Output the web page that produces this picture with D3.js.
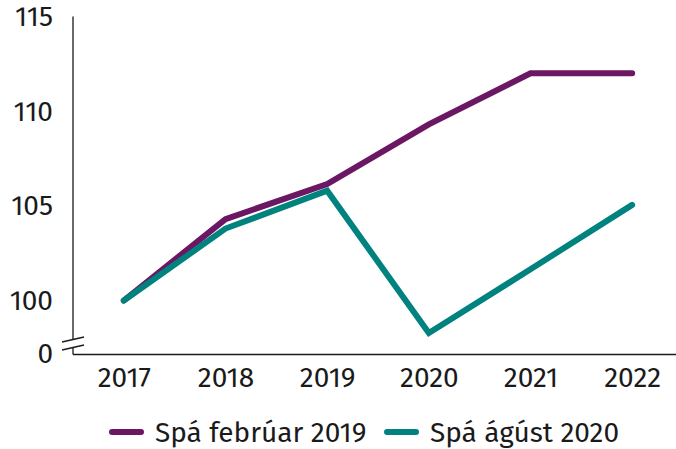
<!DOCTYPE html>
<html>
<head>
<meta charset="utf-8">
<script src="https://cdn.jsdelivr.net/npm/d3@7"></script>
<style>
  body { margin: 0; background: #fff; }
  svg text { font-family: "Fira Sans", "Noto Sans", sans-serif; fill: #1a1a1a; }
</style>
</head>
<body>
<svg width="676" height="449"></svg>
<script>
var years = ['2017', '2018', '2019', '2020', '2021', '2022'];
var febValues = [100, 104.3, 106.15, 109.3, 112.0, 112.0];
var augValues = [100, 103.8, 105.8, 98.28, 101.65, 105.05];
var yTicks = [100, 105, 110, 115];
var seriesNames = ['Spá febrúar 2019', 'Spá ágúst 2020'];
var seriesColors = ['#6c1763', '#00827f'];

var svg = d3.select('svg');
var left = 73;
var axisY = 354.5;
var fontSize = '28px';

// y is broken below 100: the bottom of the axis is labelled 0
var y = d3.scaleLinear().domain([100, 115]).range([300.5, 16.5]);
var x = d3.scalePoint().domain(years).range([left, 683]).padding(0.5);

// y axis with break marks
svg.append('line').attr('x1', left).attr('x2', left).attr('y1', y(115)).attr('y2', 339)
  .attr('stroke', '#1a1a1a').attr('stroke-width', 1.3);
svg.append('line').attr('x1', left).attr('x2', left).attr('y1', 347).attr('y2', axisY)
  .attr('stroke', '#1a1a1a').attr('stroke-width', 1.3);
[0, 8].forEach(function(off){
  svg.append('line')
    .attr('x1', 62).attr('y1', 342 + off)
    .attr('x2', 84).attr('y2', 337 + off)
    .attr('stroke', '#1a1a1a').attr('stroke-width', 1.3);
});

var yAxis = svg.append('g')
  .attr('transform', 'translate(' + left + ',0)')
  .call(d3.axisLeft(y).tickValues(yTicks).tickSize(0).tickPadding(20).tickFormat(d3.format('d')));
yAxis.select('.domain').remove();
yAxis.selectAll('text').style('font-size', fontSize);

svg.append('text')
  .attr('x', left - 20).attr('y', axisY).attr('dy', '0.32em')
  .attr('text-anchor', 'end').style('font-size', fontSize)
  .text('0');

// x axis
var xAxis = svg.append('g')
  .attr('transform', 'translate(0,' + axisY + ')')
  .call(d3.axisBottom(x).tickSize(0).tickPadding(13));
xAxis.select('.domain').attr('d', 'M' + left + ',0H676').attr('stroke', '#1a1a1a').attr('stroke-width', 1.3);
xAxis.selectAll('text').style('font-size', fontSize);

var line = d3.line()
  .x(function(d, i){ return x(years[i]); })
  .y(function(d){ return y(d); });

[febValues, augValues].forEach(function(vals, i){
  svg.append('path')
    .datum(vals)
    .attr('d', line)
    .attr('fill', 'none')
    .attr('stroke', seriesColors[i])
    .attr('stroke-width', 6)
    .attr('stroke-linecap', 'round')
    .attr('stroke-linejoin', 'miter');
});

// legend
var legendX = [112, 387];
seriesNames.forEach(function(name, i){
  var g = svg.append('g').attr('transform', 'translate(' + legendX[i] + ',432)');
  g.append('line').attr('x1', 0).attr('x2', 29).attr('y1', 0).attr('y2', 0)
    .attr('stroke', seriesColors[i]).attr('stroke-width', 6).attr('stroke-linecap', 'round');
  g.append('text').attr('x', 43).attr('dy', '0.35em').style('font-size', fontSize).text(name);
});
</script>
</body>
</html>
